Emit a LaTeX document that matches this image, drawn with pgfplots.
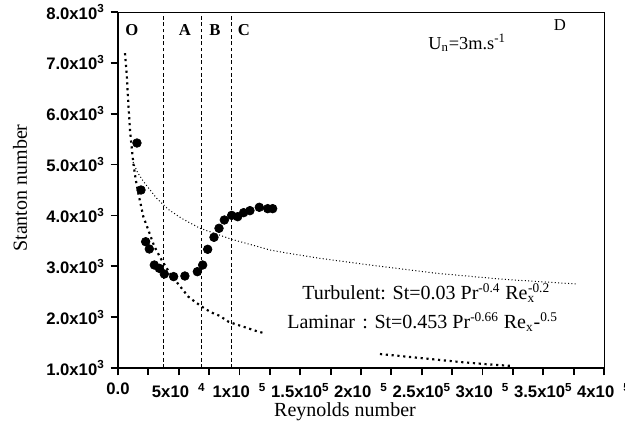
\documentclass[border=0pt]{standalone}
\usepackage{fontspec}
\setmainfont{Liberation Serif}
\setsansfont{Liberation Sans}
\usepackage{pgfplots}
\pgfplotsset{compat=1.18}

\begin{document}
\begin{tikzpicture}[x=0.6pt,y=0.6pt]
% 1 unit = one pixel of the 625x423 reference
\begin{axis}[
    scale only axis, width=291.6pt, height=213.6pt,
    xmin=0, xmax=400000, ymin=1000, ymax=8000,
    scaled ticks=false,
    xtick={0,50000,100000,150000,200000,250000,300000,350000,400000},
    xticklabels={0.0, 5x10\hspace{0.55em}\textsuperscript{4}, 1x10\hspace{0.55em}\textsuperscript{5},
                 1.5x10\textsuperscript{5}, 2x10\hspace{0.55em}\textsuperscript{5}, 2.5x10\textsuperscript{5},
                 3x10\hspace{0.55em}\textsuperscript{5}, 3.5x10\textsuperscript{5}, 4x10\hspace{0.55em}\textsuperscript{5}},
    xticklabel style={yshift=-1pt},
    minor x tick num=1,
    ytick={1000,2000,3000,4000,5000,6000,7000,8000},
    yticklabels={1.0x10\textsuperscript{3},2.0x10\textsuperscript{3},3.0x10\textsuperscript{3},4.0x10\textsuperscript{3},
                 5.0x10\textsuperscript{3},6.0x10\textsuperscript{3},7.0x10\textsuperscript{3},8.0x10\textsuperscript{3}},
    tick label style={font=\sffamily\bfseries\fontsize{10}{11}\selectfont},
    xtick pos=left, ytick pos=left,
    tick align=outside,
    major tick length=4.5pt, minor tick length=4pt,
    tick style={black, line width=1.1pt},
    axis line style={line width=0.5pt},
    clip=false,
]
% vertical region borders
\addplot[black, line width=0.5pt, dash pattern=on 2.2pt off 1.6pt] coordinates {(37000,1000) (37000,8000)};
\addplot[black, line width=0.5pt, dash pattern=on 2.2pt off 1.6pt] coordinates {(68300,1000) (68300,8000)};
\addplot[black, line width=0.5pt, dash pattern=on 2.2pt off 1.6pt] coordinates {(93000,1000) (93000,8000)};

% laminar correlation
\addplot[black, line width=1.3pt, dash pattern=on 1.3pt off 2.2pt] coordinates {
    (5760,7190) (7130,6790) (8500,6200) (9880,5680) (10800,5450) (12620,5025)
    (14500,4720) (16740,4434) (20850,3975) (24970,3713) (29900,3390) (35900,3124)
    (43000,2850) (52400,2567) (57900,2402) (64000,2290) (71000,2174) (77100,2089)
    (83400,2029) (90800,1912) (96300,1865) (107200,1780) (115500,1714) (121500,1680)
};
\addplot[black, line width=1.3pt, dash pattern=on 1.3pt off 2.2pt] coordinates {
    (215600,1275) (248500,1197) (281500,1118) (306200,1069) (324300,1040)
};

% turbulent correlation
\addplot[black, line width=0.6pt, dash pattern=on 0.6pt off 1.4pt] coordinates {
    (12345,5050) (16000,4850) (20850,4670) (31800,4337) (41400,4119) (52400,3942)
    (67500,3747) (93550,3530) (115500,3385) (125100,3320) (137400,3267) (166300,3156)
    (207400,3025) (262300,2862) (317100,2744) (378600,2650)
};

% measurements
\addplot[only marks, mark=*, mark size=2.6pt, black] coordinates {
    (15600,5424) (18930,4500) (22770,3483) (25790,3340) (29900,3025) (34000,2960)
    (38130,2848) (45800,2797) (55060,2809) (65300,2894) (69680,3025) (73800,3334)
    (79000,3570) (83130,3747) (87520,3910) (93550,4001) (98500,3975) (103400,4054)
    (108600,4094) (116300,4160) (123200,4133) (127300,4133)
};

% heavy left and bottom axis lines
\draw[line width=1.3pt] (rel axis cs:0,1) -- (rel axis cs:0,0) -- (rel axis cs:1,0);
\coordinate (o) at (rel axis cs:0,0);

\node[font=\bfseries\fontsize{10}{12}\selectfont] at (axis cs:11500,7646) {O};
\node[font=\bfseries\fontsize{10}{12}\selectfont] at (axis cs:55100,7646) {A};
\node[font=\bfseries\fontsize{10}{12}\selectfont] at (axis cs:79800,7646) {B};
\node[font=\bfseries\fontsize{10}{12}\selectfont] at (axis cs:103700,7646) {C};
\node[font=\fontsize{10}{12}\selectfont] at (axis cs:363800,7744) {D};
\node[anchor=west, inner sep=0pt, font=\fontsize{11}{13}\selectfont] at (axis cs:255100,7390)
    {U\textsubscript{n}=3m.s\textsuperscript{-1}};
\node[anchor=west, inner sep=0pt, font=\fontsize{12}{14}\selectfont] at (axis cs:151400,2475)
    {Turbulent: St=0.03 Pr\textsuperscript{-0.4} Re\textsubscript{x}\kern-0.35em\textsuperscript{-0.2}};
\node[anchor=west, inner sep=0pt, font=\fontsize{12}{14}\selectfont] at (axis cs:139100,1904) {Laminar};
\node[anchor=west, inner sep=0pt, font=\fontsize{12}{14}\selectfont] at (axis cs:200800,1904)
    {: St=0.453 Pr\textsuperscript{-0.66} Re\textsubscript{x}-\textsuperscript{0.5}};
\end{axis}

% offsets in reference pixels from the lower left corner of the axis box (118,368)
\node[rotate=90, font=\fontsize{12}{14}\selectfont] at ([shift={(-98,180)}]o) {Stanton number};
\node[font=\fontsize{12}{14}\selectfont] at ([shift={(227,-44)}]o) {Reynolds number};

\pgfresetboundingbox
\path ([shift={(-118,-55)}]o) rectangle ([shift={(507,368)}]o);
\end{tikzpicture}
\end{document}
